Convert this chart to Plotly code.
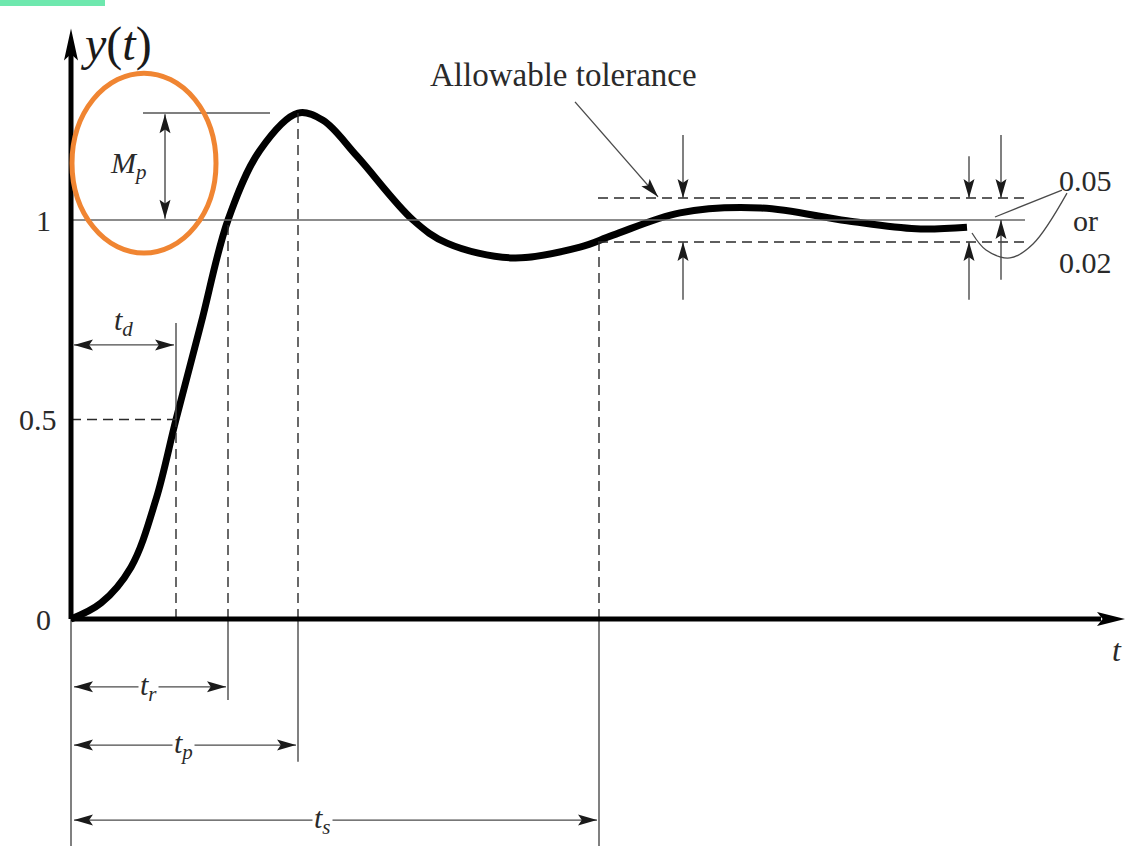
import math
import plotly.graph_objects as go

# ---- data (t in arbitrary time units, y normalized response) ----
t_curve = [0, 0.3, 0.6, 0.85, 1.05, 1.3, 1.57, 1.89, 2.27, 2.52, 2.86,
           3.42, 3.76, 4.42, 5.09, 5.42, 6.09, 6.9, 7.76, 8.45, 8.96]
y_curve = [0, 0.04, 0.13, 0.30, 0.5, 0.74, 1.0, 1.175, 1.268, 1.25, 1.16,
           1.0, 0.942, 0.905, 0.932, 0.962, 1.018, 1.03, 0.998, 0.978, 0.982]

marker_names = ["d", "r", "p", "s"]
marker_times = [1.05, 1.57, 2.27, 5.28]
marker_levels = [0.5, 1.0, 1.268, 0.945]

tick_vals = [0, 0.5, 1]
tick_text = ["0", "0.5", "1"]

final_value = 1.0
tol_upper = 1.055
tol_lower = 0.945
peak_value = 1.268

SERIF = "Liberation Serif, Times New Roman, serif"
DARK = "#2a2a2a"
GRAY = "#4a4a4a"
SX = 0.01        # data x per pixel
SY = 1 / 399.0   # data y per pixel

fig = go.Figure()

# main response curve
fig.add_trace(go.Scatter(x=t_curve, y=y_curve, mode="lines",
                         line=dict(color="black", width=7, shape="spline", smoothing=1.0),
                         hoverinfo="skip", showlegend=False))

# leader lines to "0.05 or 0.02"
fig.add_trace(go.Scatter(x=[9.24, 9.91], y=[1.0075, 1.075], mode="lines",
                         line=dict(color=GRAY, width=1.3), hoverinfo="skip", showlegend=False))
fig.add_trace(go.Scatter(x=[9.01, 9.15, 9.39, 9.62, 9.96], y=[0.9675, 0.925, 0.905, 0.94, 1.0675],
                         mode="lines", line=dict(color=GRAY, width=1.3, shape="spline"),
                         hoverinfo="skip", showlegend=False))

shapes = []


def seg(x0, y0, x1, y1, color=GRAY, width=1.4, dash=None):
    ln = dict(color=color, width=width)
    if dash:
        ln["dash"] = dash
    shapes.append(dict(type="line", x0=x0, y0=y0, x1=x1, y1=y1, line=ln, layer="above"))


def head(xt, yt, ux, uy, L=19, W=5.5, color="#1a1a1a"):
    """filled, slightly barbed arrowhead; (ux, uy) direction in screen px (y up)."""
    n = math.hypot(ux, uy)
    ux, uy = ux / n, uy / n
    px, py = -uy, ux
    bx, by = xt - ux * L * SX, yt - uy * L * SY
    p1 = (bx + px * W * SX, by + py * W * SY)
    p3 = (bx - px * W * SX, by - py * W * SY)
    nx, ny = xt - ux * L * 0.8 * SX, yt - uy * L * 0.8 * SY
    path = "M %f,%f L %f,%f L %f,%f L %f,%f Z" % (p1[0], p1[1], xt, yt, p3[0], p3[1], nx, ny)
    shapes.append(dict(type="path", path=path, fillcolor=color, line=dict(width=0), layer="above"))


def arrow(x0, y0, x1, y1, both=False, L=19, W=5.5):
    seg(x0, y0, x1, y1)
    ux, uy = (x1 - x0) / SX, (y1 - y0) / SY
    head(x1, y1, ux, uy, L, W)
    if both:
        head(x0, y0, -ux, -uy, L, W)


DASH = "10px,6px"
# reference line y = 1
seg(0, final_value, 9.54, final_value, color="#666666", width=1.6)
# tolerance band
for yv in (tol_upper, tol_lower):
    seg(5.27, yv, 9.56, yv, color=DARK, width=1.6, dash=DASH)
# 0.5 dashed
seg(0, 0.5, marker_times[0], 0.5, color=DARK, width=1.4, dash=DASH)
# vertical markers
below = {"r": -0.203, "p": -0.358, "s": -0.57}
for name, tv, lv in zip(marker_names, marker_times, marker_levels):
    seg(tv, 0, tv, lv, color=DARK, width=1.4, dash=DASH)
    if name in below:
        seg(tv, below[name], tv, 0, color=GRAY, width=1.4)
# t_d solid part above 0.5
seg(marker_times[0], 0.5, marker_times[0], 0.742)
# thin y-axis below the time axis
seg(0, -0.57, 0, 0)
# Mp horizontal
seg(0.72, peak_value, 1.99, peak_value, color="#555555", width=1.6)
# thick axes
seg(0, 0, 10.3, 0, color="black", width=5)
seg(0, 0, 0, 1.42, color="black", width=5)
head(10.54, 0, 1, 0, L=28, W=7, color="black")
head(0, 1.48, 0, 1, L=32, W=7, color="black")
# orange ellipse
shapes.append(dict(type="circle", x0=0.01, x1=1.45, y0=0.917, y1=1.368,
                   line=dict(color="#F08532", width=5)))
# green bar at top-left
shapes.append(dict(type="rect", xref="paper", yref="paper", x0=0, x1=105 / 1125,
                   y0=1 - 6 / 846, y1=1, line=dict(width=0), fillcolor="#6EE8AE"))

ann = []


def label(x, y, text, size=30, bg=None, color=DARK):
    d = dict(x=x, y=y, xref="x", yref="y", text=text, showarrow=False,
             font=dict(family=SERIF, size=size, color=color))
    if bg:
        d["bgcolor"] = bg
    ann.append(d)


# t_d
arrow(0.03, 0.687, 1.03, 0.687, both=True)
label(0.52, 0.744, "<i>t<sub>d</sub></i>", 30)
# time-span arrows
spans = {"r": -0.170, "p": -0.316, "s": -0.504}
span_label_x = {"r": 0.77, "p": 1.12, "s": 2.51}
for name, tv in zip(marker_names, marker_times):
    if name in spans:
        arrow(0.03, spans[name], tv - 0.02, spans[name], both=True)
        label(span_label_x[name], spans[name], "<i>t<sub>%s</sub></i>" % name, 30, bg="white")

# Mp
arrow(0.94, peak_value - 0.003, 0.94, final_value + 0.003, both=True)
label(0.57, 1.138, "<i>M<sub>p</sub></i>", 30)

# Allowable tolerance
label(4.92, 1.363, "Allowable tolerance", 33)
arrow(5.04, 1.296, 5.87, 1.058)

# tolerance arrows
arrow(6.12, 1.213, 6.12, tol_upper)
arrow(6.12, 0.80, 6.12, tol_lower)
arrow(8.98, 1.16, 8.98, tol_upper)
arrow(8.98, 0.80, 8.98, tol_lower)
arrow(9.30, 1.213, 9.30, tol_upper)
arrow(9.30, 0.85, 9.30, final_value)

label(10.14, 1.10, "0.05", 30)
label(10.14, 1.0, "or", 30)
label(10.14, 0.893, "0.02", 30)

# tick labels
tick_x = {"0": -0.28, "0.5": -0.33, "1": -0.28}
for v, tx in zip(tick_vals, tick_text):
    label(tick_x[tx], v, tx, 30)

# axis titles
label(0.45, 1.44, "<i>y</i>(<i>t</i>)", 48, color="#1a1a1a")
label(10.46, -0.078, "<i>t</i>", 32)

fig.update_layout(
    width=1125, height=846,
    margin=dict(l=0, r=0, t=0, b=0),
    paper_bgcolor="white", plot_bgcolor="white",
    xaxis=dict(range=[-0.71, 10.54], visible=False, fixedrange=True),
    yaxis=dict(range=[-(846 - 619) / 399.0, 619 / 399.0], visible=False, fixedrange=True),
    shapes=shapes, annotations=ann, showlegend=False,
)

fig.write_html("out.html", config={"displayModeBar": False},
               post_script="document.body.style.margin='0px';")
